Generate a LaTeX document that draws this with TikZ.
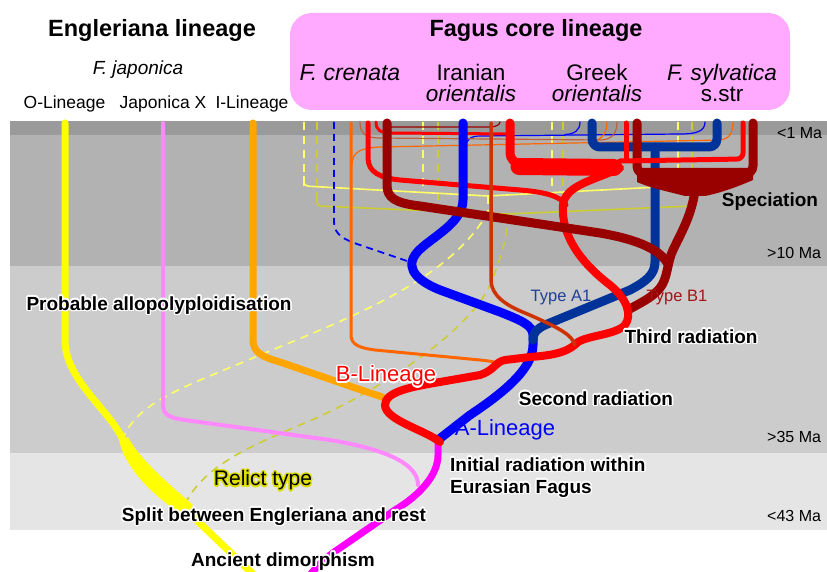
\documentclass[tikz,border=0pt]{standalone}
\usepackage{fontspec}
\setmainfont{Liberation Sans}
\usepackage{contour}
\contourlength{1.4pt}
\newcommand\halo[2][white]{\contour{#1}{#2}}

\definecolor{bandA}{HTML}{9A9A9A}
\definecolor{bandB}{HTML}{B2B2B2}
\definecolor{bandC}{HTML}{CCCCCC}
\definecolor{bandD}{HTML}{E5E5E5}
\definecolor{boxpink}{HTML}{FFAAFF}
\definecolor{dkred}{HTML}{990000}
\definecolor{dkblue}{HTML}{003399}
\definecolor{purered}{HTML}{FF0000}
\definecolor{pureblue}{HTML}{0000FF}
\definecolor{puremag}{HTML}{FF00FF}
\definecolor{pureyel}{HTML}{FFFF00}
\definecolor{oranI}{HTML}{FFA500}
\definecolor{oranC}{HTML}{FF6600}
\definecolor{oranB}{HTML}{CC3300}
\definecolor{brwn}{HTML}{C0603A}
\definecolor{lyel}{HTML}{FFFF66}
\definecolor{dyel}{HTML}{CCCC33}
\definecolor{japink}{HTML}{FF88FF}
\definecolor{relict}{HTML}{DDDD00}
\definecolor{typeAcol}{HTML}{1F3F99}
\definecolor{typeBcol}{HTML}{A31515}

\tikzset{
  thick line/.style={line cap=round, line join=round},
  yelO/.style={thick line, draw=pureyel, line width=7},
  pnk/.style={thick line, draw=japink, line width=4},
  mag/.style={thick line, draw=puremag, line width=7},
  orI/.style={thick line, draw=oranI, line width=7},
  orC/.style={thick line, draw=oranC, line width=3},
  orB/.style={thick line, draw=oranB, line width=3.5},
  thinl/.style={line cap=round, line width=1.2},
  lyd/.style={draw=lyel, line width=1.6, dash pattern=on 8 off 6},
  lys/.style={draw=lyel, line width=1.6},
  dyd/.style={draw=dyel, line width=1.6, dash pattern=on 8 off 6},
  dys/.style={draw=dyel, line width=1.6},
  bld/.style={draw=pureblue, line width=1.8, dash pattern=on 7 off 5},
  blu/.style={thick line, draw=pureblue, line width=9},
  dbl/.style={thick line, draw=dkblue, line width=9},
  redk/.style={thick line, draw=purered, line width=8},
  redm/.style={thick line, draw=purered, line width=5},
  drk/.style={thick line, draw=dkred, line width=9},
  hd/.style={font=\fontsize{23.5}{24}\selectfont\bfseries},
  sp/.style={font=\fontsize{22.5}{21}\selectfont, align=center, inner sep=0},
  lin/.style={font=\fontsize{17.5}{20}\selectfont, inner sep=0},
  ma/.style={font=\fontsize{16}{18}\selectfont, anchor=west, inner sep=0},
  ev/.style={font=\fontsize{19}{22}\selectfont\bfseries, inner sep=0},
}

\begin{document}
\begin{tikzpicture}[x=1pt,y=-1pt]
        \useasboundingbox (0,0) rectangle (827,572);
%
        \fill[bandA] (10,121) rectangle (827,135);
        \fill[bandB] (10,135) rectangle (827,266);
        \fill[bandC] (10,266) rectangle (827,453);
        \fill[bandD] (10,453) rectangle (827,530);
        \fill[boxpink, rounded corners=22] (290,13) rectangle (790,110);
%
        % yellow brackets of the relict type
        \foreach \x/\y in {304/186,423/192,552/192,678/186} \draw[lyd] (\x,122) -- (\x,\y);
        \foreach \x/\y in {317/206,438/211,563/211,692/206} \draw[dyd] (\x,122) -- (\x,\y);
        \draw[lys, rounded corners=4] (304,176) -- (304,186) -- (488,196) -- (678,186) -- (678,176);
        \draw[dys, rounded corners=4] (317,196) -- (317,206) -- (507,214) -- (692,206) -- (692,196);
        \draw[lyd] (488,196) -- (488,212) .. controls (450,280) and (350,318) .. (260,355)
              .. controls (190,385) and (140,400) .. (124,436);
        \draw[dyd] (507,214) -- (507,222) .. controls (507,240) and (500,260) .. (490,285)
              .. controls (470,330) and (380,392) .. (300,425) .. controls (240,450) and (200,470) .. (183,508);
%
        % Engleriana lineage
        \draw[pnk] (163,123) -- (163,405) .. controls (163,415) and (170,418) .. (185,420)
              -- (330,440) .. controls (390,450) and (418,465) .. (418,485);
        \draw[mag] (438,440) -- (438,455) .. controls (438,475) and (420,495) .. (395,510)
              -- (340,548) .. controls (325,558) and (318,565) .. (310,575);
        \draw[yelO] (65,123) -- (65,340) .. controls (65,380) and (110,410) .. (123,440);
        \fill[pureyel] (119,440) .. controls (124,465) and (150,495) .. (185,516)
              -- (193,505) .. controls (170,485) and (140,460) .. (128,437) -- cycle;
        \draw[pureyel, line width=7] (186,510) -- (254,575);
        \draw[orI] (253,123) -- (253,340) .. controls (253,352) and (262,357) .. (280,362)
              -- (370,393) .. controls (380,396) and (385,398) .. (388,400);
%
        % thin lines in the top band
        \draw[thinl, draw=pureblue] (705,122) .. controls (705,132) and (695,134) .. (680,134)
              -- (480,136) .. controls (470,136) and (466,140) .. (465,148);
        \draw[thinl, draw=pureblue] (580,122) .. controls (580,130) and (575,134) .. (565,134.5);
        \draw[thinl, draw=oranC] (352,165) .. controls (352,152) and (360,148) .. (380,147)
              -- (720,140) .. controls (730,139) and (733,132) .. (733,122);
        \draw[thinl, draw=oranC] (607,122) .. controls (607,135) and (600,141) .. (590,141.5);
        \draw[thinl, draw=brwn] (360,122) .. controls (360,133) and (365,138) .. (380,138)
              -- (600,140) .. controls (612,140) and (617,133) .. (617,122);
        \draw[thinl, draw=dkred] (387,127) -- (490,127) .. controls (497,127) and (500,124) .. (500,122);
        \draw[thinl, draw=purered, line width=3] (376,122) .. controls (376,130) and (380,133) .. (392,133) -- (510,134);
%
        % crenata lines
        \draw[bld] (334,122) -- (334,222) .. controls (334,235) and (345,240) .. (360,245) -- (410,262);
        \draw[orC] (351,123) -- (351,335) .. controls (351,345) and (360,348) .. (375,350)
              -- (480,360) .. controls (490,361) and (495,362) .. (497,363);
        \draw[redm] (368,123) -- (368,158) .. controls (368,172) and (380,178) .. (400,180)
              -- (520,190) .. controls (545,192) and (560,196) .. (566,205);
%
        % A-lineage
        \draw[blu] (463,123) -- (463,200) .. controls (463,225) and (425,240) .. (415,255)
              .. controls (405,270) and (420,282) .. (440,290) -- (500,312)
              .. controls (520,320) and (533,325) .. (533,335) -- (533,345)
              .. controls (533,370) and (500,395) .. (470,415) -- (438,440);
        \draw[dbl, rounded corners=8] (592,123) -- (592,147) -- (717,147) -- (717,123);
        \draw[dbl] (655,147) -- (655,262) .. controls (655,275) and (645,282) .. (630,290)
              -- (545,325) .. controls (537,329) and (533,332) .. (533,340);
%
        % B-lineage
        \draw[drk, rounded corners=8] (637,123) -- (637,174) -- (753,174) -- (753,123);
        \fill[dkred] (637,168) -- (753,168) -- (753,180) .. controls (730,190) and (715,194) .. (705,196)
              -- (685,196) .. controls (670,192) and (650,188) .. (637,182) -- cycle;
        \draw[drk] (695,190) .. controls (692,215) and (680,235) .. (673,250)
              .. controls (667,262) and (668,278) .. (660,288) .. controls (652,298) and (640,303) .. (628,310);
        \draw[redm] (626,123) -- (626,160);
        \draw[redm, rounded corners=6] (743,123) -- (743,159) -- (620,161);
        \draw[purered, line width=9, line cap=round, rounded corners=10] (510,123) -- (510,163) -- (540,165);
        \draw[purered, line width=17, line cap=round] (519,166.5) -- (614,167.5);
        \draw[redk] (620,168) .. controls (595,180) and (565,185) .. (563,205)
              .. controls (561,235) and (580,262) .. (610,285) .. controls (628,300) and (632,315) .. (625,325)
              .. controls (615,335) and (590,335) .. (578,342) .. controls (570,350) and (560,355) .. (530,357)
              -- (505,360) .. controls (495,362) and (495,370) .. (480,375) -- (440,382)
              .. controls (410,387) and (385,392) .. (385,405) .. controls (385,420) and (425,430) .. (440,442);
        \draw[drk] (387,123) -- (387,185) .. controls (387,198) and (395,203) .. (420,206)
              -- (600,233) .. controls (640,240) and (660,250) .. (668,264);
        \draw[orB] (491,123) -- (491,280) .. controls (491,295) and (505,305) .. (525,313)
              .. controls (560,328) and (572,335) .. (575,345);
%
        % headings
        \node[hd] (engl) at (152,30) {Engleriana lineage};
        \node[hd] (fagus) at (536,30) {Fagus core lineage};
        \node[lin, font=\fontsize{19}{20}\selectfont\itshape] (japon) at (138,70) {F. japonica};
        \node[lin] (olin) at (64.5,104) {O-Lineage};
        \node[lin] (japx) at (163,104) {Japonica X};
        \node[lin] (ilin) at (252,104) {I-Lineage};
        \node[sp, font=\fontsize{23}{21}\selectfont\itshape] (cren) at (350,73) {F. crenata};
        \node[sp] (iran) at (471,83) {Iranian\\\textit{orientalis}};
        \node[sp] (greek) at (597,83) {Greek\\\textit{orientalis}};
        \node[sp] (sylv) at (722,83) {\textit{F. sylvatica}\\s.str};
%
        % ages
        \node[ma] (ma1) at (777,133) {<1 Ma};
        \node[ma] (ma10) at (767,253) {>10 Ma};
        \node[ma] (ma35) at (767,437) {>35 Ma};
        \node[ma] (ma43) at (767,516) {<43 Ma};
%
        % events
        \node[ev] (spec) at (770,202) {Speciation};
        \node[ev] (allo) at (159,306) {\halo{Probable allopolyploidisation}};
        \node[ev] (third) at (691,337) {\halo{Third radiation}};
        \node[ev] (second) at (596,399) {\halo{Second radiation}};
        \node[ev, anchor=west, align=left] (initial) at (450,478) {\halo{Initial radiation within}\\\halo{Eurasian Fagus}};
        \node[ev] (split) at (274,517) {\halo{Split between Engleriana and rest}};
        \node[ev] (ancient) at (283,562) {\halo{Ancient dimorphism}};
        \node[font=\fontsize{21}{22}\selectfont, inner sep=0] (relict) at (263,481) {\halo[relict]{Relict type}};
        \node[font=\fontsize{22}{22}\selectfont, text=purered, inner sep=0] (blin) at (386,377) {\halo{B-Lineage}};
        \node[font=\fontsize{22}{22}\selectfont, text=pureblue, inner sep=0] (alin) at (505,430) {A-Lineage};
        \node[font=\fontsize{16.5}{18}\selectfont, text=typeAcol, inner sep=0] (typeA) at (561,298) {Type A1};
        \node[font=\fontsize{16.5}{18}\selectfont, text=typeBcol, inner sep=0] (typeB) at (677,298) {Type B1};
\end{tikzpicture}
\end{document}
